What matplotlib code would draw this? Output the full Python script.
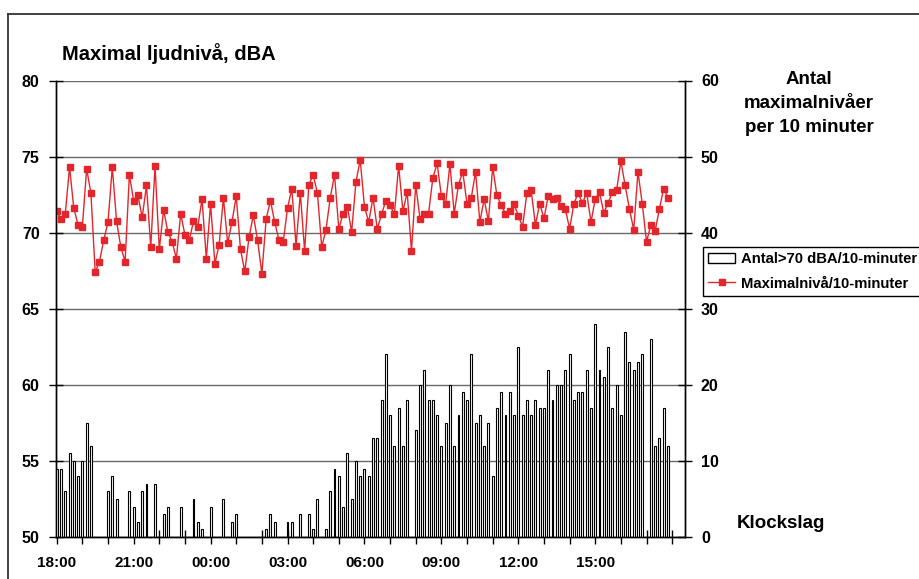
import matplotlib
matplotlib.use('Agg')
import matplotlib.pyplot as plt
import numpy as np
from matplotlib.lines import Line2D
from matplotlib.patches import Patch

plt.rcParams['font.family'] = ['Liberation Sans', 'DejaVu Sans']
plt.rcParams['font.weight'] = 'bold'

# maximal ljudnivå per 10-minutersintervall, start 18:00
max_level = [
    71.4, 70.9, 71.25, 74.3, 71.6, 70.5, 70.4, 74.2, 72.6, 67.4, 68.1, 69.5,
    70.7, 74.3, 70.75, 69.05, 68.1, 73.8, 72.1, 72.45, 71.0, 73.1, 69.05, 74.4,
    68.9, 71.5, 70.05, 69.4, 68.3, 71.25, 69.85, 69.5, 70.75, 70.4, 72.2, 68.3,
    71.9, 67.95, 69.2, 72.3, 69.3, 70.7, 72.4, 68.9, 67.45, 69.7, 71.15, 69.5,
    67.3, 70.9, 72.1, 70.7, 69.5, 69.4, 71.6, 72.9, 69.15, 72.6, 68.8, 73.15,
    73.8, 72.6, 69.05, 70.2, 72.3, 73.8, 70.25, 71.25, 71.7, 70.05, 73.3, 74.8,
    71.7, 70.7, 72.3, 70.25, 71.2, 72.1, 71.8, 71.2, 74.4, 71.4, 72.65, 68.8,
    73.15, 70.9, 71.25, 71.25, 73.6, 74.55, 72.4, 71.9, 74.5, 71.25, 73.15, 74.0,
    71.9, 72.3, 74.0, 70.7, 72.2, 70.75, 74.3, 72.45, 71.8, 71.25, 71.4, 71.9,
    71.1, 70.4, 72.6, 72.8, 70.5, 71.9, 70.95, 72.4, 72.2, 72.3, 71.75, 71.55,
    70.25, 71.9, 72.6, 71.95, 72.6, 70.7, 72.2, 72.65, 71.3, 71.95, 72.65, 72.8,
    74.7, 73.1, 71.55, 70.2, 74.0, 71.9, 69.4, 70.5, 70.1, 71.55, 72.9, 72.3,
]

# antal maximalnivåer > 70 dBA per 10 minuter
count_over70 = [
    9, 9, 6, 11, 10, 8, 10, 15, 12, 0, 0, 0,
    6, 8, 5, 0, 0, 6, 4, 2, 6, 7, 0, 7,
    0, 3, 4, 0, 0, 4, 0, 0, 5, 2, 1, 0,
    4, 0, 0, 5, 0, 2, 3, 0, 0, 0, 0, 0,
    0, 1, 3, 2, 0, 0, 2, 2, 0, 3, 0, 3,
    1, 5, 0, 1, 6, 9, 8, 4, 11, 5, 10, 8,
    9, 8, 13, 13, 18, 24, 16, 12, 17, 12, 18, 0,
    14, 20, 22, 18, 18, 16, 12, 15, 20, 12, 16, 19,
    18, 24, 15, 16, 12, 15, 8, 17, 19, 16, 19, 16,
    25, 16, 18, 16, 18, 17, 17, 22, 18, 20, 20, 22,
    24, 18, 19, 19, 22, 17, 28, 22, 21, 25, 17, 20,
    16, 27, 23, 22, 23, 24, 0, 26, 12, 13, 17, 12,
]

hour_labels = ['18:00', '21:00', '00:00', '03:00', '06:00', '09:00', '12:00', '15:00']

# tid i timmar efter 18:00
t = np.arange(len(max_level)) / 6.0

fig = plt.figure(figsize=(9.2, 5.79), dpi=100)
ax1 = fig.add_axes([55.7/920, 1-537/579, (685-55.7)/920, (537-80.5)/579])
ax2 = ax1.twinx()

ax1.set_xlim(-0.04, 24.5)
ax1.set_ylim(50, 80)
ax2.set_ylim(0, 60)

ax1.set_yticks(np.arange(50, 81, 5))
ax2.set_yticks(np.arange(0, 61, 10))
ax1.grid(axis='y', color='#6a6a6a', lw=1.0)
ax1.set_axisbelow(True)

hours = np.arange(0, 25)
ax1.set_xticks(hours)
ax1.set_xticklabels([hour_labels[h // 3] if h % 3 == 0 and h // 3 < len(hour_labels) else '' for h in hours])

for ax in (ax1, ax2):
    ax.tick_params(direction='inout', length=10, width=1.0, labelsize=11.5)
    for s in ax.spines.values():
        s.set_linewidth(1.0)
    ax.spines['top'].set_visible(False)
ax1.tick_params(axis='y', pad=6.5)
ax2.tick_params(axis='y', pad=6.5)
ax1.tick_params(axis='x', pad=8.5, labelsize=11)
for lab in ax1.get_yticklabels() + ax2.get_yticklabels() + ax1.get_xticklabels():
    lab.set_fontweight('bold')

ax2.bar(t, count_over70, width=0.075, color='white', edgecolor='black', lw=0.8, align='center')
ax1.plot(t, max_level, color='#e3262b', lw=1.0, marker='s', ms=4.5, zorder=3)

handles = [Patch(facecolor='white', edgecolor='black', lw=1.0),
           Line2D([], [], color='#e3262b', lw=1.0, marker='s', ms=4.5)]
fig.legend(handles, ['Antal>70 dBA/10-minuter', 'Maximalnivå/10-minuter'],
           loc='upper left', bbox_to_anchor=(703/920, 1-247/579), fancybox=False,
           edgecolor='black', framealpha=1, prop={'weight': 'bold', 'size': 10.7},
           borderaxespad=0, borderpad=0.35, handlelength=1.8, handletextpad=0.4,
           labelspacing=0.7)

fig.text(62/920, 1-54/579, 'Maximal ljudnivå, dBA', fontsize=14.5, fontweight='bold', va='center', ha='left')
fig.text(809/920, 1-103.5/579, 'Antal\nmaximalnivåer\nper 10 minuter', fontsize=13.5,
         fontweight='bold', va='center', ha='center', linespacing=1.5)
fig.text(781/920, 1-523/579, 'Klockslag', fontsize=13.5, fontweight='bold', va='center', ha='center')

# ram runt diagrammet
fig.add_artist(Line2D([8/920, 1], [1-14/579, 1-14/579], transform=fig.transFigure, color='#333333', lw=1.3))
fig.add_artist(Line2D([8/920, 8/920], [0, 1-14/579], transform=fig.transFigure, color='#333333', lw=1.3))

fig.savefig('out.png', dpi=100)
